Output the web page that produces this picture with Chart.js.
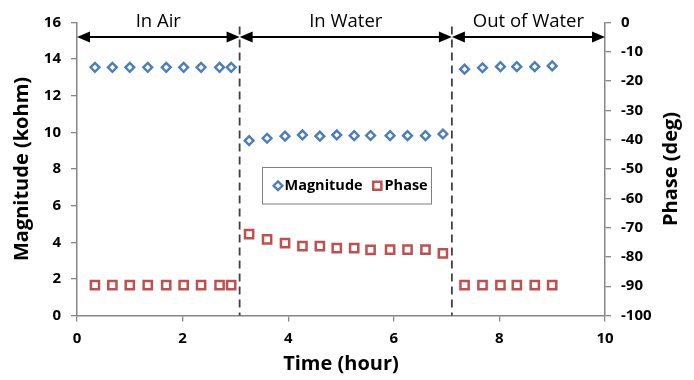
<!DOCTYPE html>
<html>
<head>
<meta charset="utf-8">
<script src="https://cdn.jsdelivr.net/npm/chart.js@4/dist/chart.umd.min.js"></script>
<style>
  html, body { margin: 0; padding: 0; background: #ffffff; }
  #wrap { width: 694px; height: 380px; position: relative; }
</style>
</head>
<body>
<div id="wrap"><canvas id="c" width="694" height="380"></canvas></div>
<script>
// ---- data ----
const hours = [0.34, 0.67, 1.00, 1.34, 1.69, 2.02, 2.35, 2.70, 2.92,
               3.26, 3.60, 3.94, 4.27, 4.60, 4.92, 5.25, 5.56, 5.93, 6.26, 6.60, 6.93,
               7.34, 7.68, 8.02, 8.33, 8.67, 9.00];
const magnitude = [13.55, 13.55, 13.55, 13.55, 13.55, 13.55, 13.55, 13.55, 13.55,
                   9.55, 9.68, 9.79, 9.86, 9.79, 9.86, 9.82, 9.83, 9.82, 9.82, 9.82, 9.91,
                   13.45, 13.53, 13.59, 13.59, 13.59, 13.63];
const phase = [-89.6, -89.6, -89.6, -89.6, -89.6, -89.6, -89.6, -89.6, -89.6,
               -72.2, -74.0, -75.3, -76.3, -76.3, -77.0, -77.0, -77.6, -77.5, -77.5, -77.5, -78.8,
               -89.6, -89.6, -89.6, -89.6, -89.6, -89.6];
const regionBounds = [0, 3.08, 7.1, 10];
const regionLabels = ['In Air', 'In Water', 'Out of Water'];
const seriesNames = ['Magnitude', 'Phase'];
const xTitle = 'Time (hour)';
const yTitle = 'Magnitude (kohm)';
const y2Title = 'Phase (deg)';

const BLUE = '#4a7ebb';
const RED = '#c0504d';
const AXIS = '#868686';
const FONT = "'Open Sans', 'DejaVu Sans', sans-serif";

Chart.defaults.font.family = FONT;
Chart.defaults.color = '#000';

const pts = (ys) => hours.map((h, i) => ({ x: h, y: ys[i] }));

const overlay = {
  id: 'overlay',
  afterDatasetsDraw(chart) {
    const ctx = chart.ctx;
    const xs = chart.scales.x;
    const ca = chart.chartArea;
    ctx.save();
    // dashed separators
    ctx.strokeStyle = '#404040';
    ctx.lineWidth = 1.8;
    ctx.setLineDash([8, 5]);
    for (let i = 1; i < regionBounds.length - 1; i++) {
      const px = xs.getPixelForValue(regionBounds[i]);
      ctx.beginPath();
      ctx.moveTo(px, ca.top + 4);
      ctx.lineTo(px, ca.bottom);
      ctx.stroke();
    }
    ctx.setLineDash([]);
    // arrows + labels
    const ay = ca.top + 14.5;
    const ah = 13, aw = 5.5;
    ctx.fillStyle = '#000';
    ctx.strokeStyle = '#000';
    ctx.lineWidth = 2;
    ctx.font = "500 18.5px " + FONT;
    ctx.textAlign = 'center';
    ctx.textBaseline = 'middle';
    for (let i = 0; i < regionLabels.length; i++) {
      const x1 = xs.getPixelForValue(regionBounds[i]);
      const x2 = xs.getPixelForValue(regionBounds[i + 1]);
      ctx.beginPath();
      ctx.moveTo(x1 + ah - 1, ay);
      ctx.lineTo(x2 - ah + 1, ay);
      ctx.stroke();
      ctx.beginPath();
      ctx.moveTo(x1, ay); ctx.lineTo(x1 + ah, ay - aw); ctx.lineTo(x1 + ah, ay + aw); ctx.closePath();
      ctx.fill();
      ctx.beginPath();
      ctx.moveTo(x2, ay); ctx.lineTo(x2 - ah, ay - aw); ctx.lineTo(x2 - ah, ay + aw); ctx.closePath();
      ctx.fill();
      ctx.fillText(regionLabels[i], (x1 + x2) / 2, ay - 15);
    }
    // legend
    const lx = ca.left + 185.5, ly = ca.top + 145, lw = 169, lh = 36.5;
    ctx.fillStyle = '#fff';
    ctx.fillRect(lx, ly, lw, lh);
    ctx.strokeStyle = '#7f7f7f';
    ctx.lineWidth = 1;
    ctx.strokeRect(lx, ly, lw, lh);
    const cy = ly + lh / 2;
    const ds0 = chart.data.datasets[0], ds1 = chart.data.datasets[1];
    ctx.fillStyle = '#fff'; ctx.strokeStyle = BLUE; ctx.lineWidth = ds0.pointBorderWidth;
    ctx.beginPath();
    const r0 = ds0.pointRadius;
    ctx.moveTo(lx + 15.5 - r0, cy); ctx.lineTo(lx + 15.5, cy - r0); ctx.lineTo(lx + 15.5 + r0, cy); ctx.lineTo(lx + 15.5, cy + r0); ctx.closePath();
    ctx.fill(); ctx.stroke();
    const s1 = ds1.pointRadius * Math.SQRT1_2;
    ctx.strokeStyle = RED; ctx.lineWidth = ds1.pointBorderWidth;
    ctx.beginPath(); ctx.rect(lx + 114.8 - s1, cy - s1, 2 * s1, 2 * s1); ctx.fill(); ctx.stroke();
    ctx.fillStyle = '#000';
    ctx.font = "bold 14.5px " + FONT;
    ctx.textAlign = 'left';
    ctx.fillText(seriesNames[0], lx + 22, cy);
    ctx.fillText(seriesNames[1], lx + 122, cy);
    // right axis title (reads bottom-to-top)
    const ys2 = chart.scales.y2;
    ctx.save();
    ctx.translate(ys2.right - 23, (ca.top + ca.bottom) / 2);
    ctx.rotate(-Math.PI / 2);
    ctx.font = "bold 20px " + FONT;
    ctx.textAlign = 'center';
    ctx.textBaseline = 'middle';
    ctx.fillText(y2Title, 0, 0);
    ctx.restore();
    ctx.restore();
  }
};

const tickFont = { size: 15, weight: 'bold', family: FONT };
const titleFont = { size: 20, weight: 'bold', family: FONT };

new Chart(document.getElementById('c'), {
  type: 'scatter',
  data: {
    datasets: [
      { label: seriesNames[0], data: pts(magnitude), yAxisID: 'y',
        pointStyle: 'rectRot', pointRadius: 4.4, pointBorderWidth: 2.4,
        borderColor: BLUE, backgroundColor: '#fff', pointHoverRadius: 4.4 },
      { label: seriesNames[1], data: pts(phase), yAxisID: 'y2',
        pointStyle: 'rect', pointRadius: 5.8, pointBorderWidth: 2.5,
        borderColor: RED, backgroundColor: '#fff', pointHoverRadius: 5.8 }
    ]
  },
  options: {
    responsive: false,
    animation: false,
    events: [],
    layout: { padding: { top: 22.5, left: 0, right: 0, bottom: 0 } },
    plugins: { legend: { display: false }, tooltip: { enabled: false } },
    scales: {
      x: {
        type: 'linear', position: 'bottom', min: 0, max: 10,
        ticks: { stepSize: 2, font: tickFont, color: '#000', padding: 8, maxRotation: 0 },
        grid: { drawOnChartArea: false, tickLength: 6, color: AXIS, lineWidth: 1.3 },
        border: { color: AXIS, width: 1.5 },
        title: { display: true, text: xTitle, font: titleFont, color: '#000', padding: { top: 0, bottom: 4 } },
        afterFit: (s) => { s.height = 64.5; }
      },
      y: {
        type: 'linear', position: 'left', min: 0, max: 16,
        ticks: { stepSize: 2, font: tickFont, color: '#000', padding: 10 },
        grid: { drawOnChartArea: false, tickLength: 6, color: AXIS, lineWidth: 1.3 },
        border: { color: AXIS, width: 1.5 },
        title: { display: true, text: yTitle, font: titleFont, color: '#000', padding: { top: 10, bottom: 0 } },
        afterFit: (s) => { s.width = 77; }
      },
      y2: {
        type: 'linear', position: 'right', min: -100, max: 0,
        ticks: { stepSize: 10, font: tickFont, color: '#000', padding: 10 },
        grid: { drawOnChartArea: false, tickLength: 6, color: AXIS, lineWidth: 1.3 },
        border: { color: AXIS, width: 1.5 },
        afterFit: (s) => { s.width = 89; }
      }
    }
  },
  plugins: [overlay]
});
</script>
</body>
</html>
